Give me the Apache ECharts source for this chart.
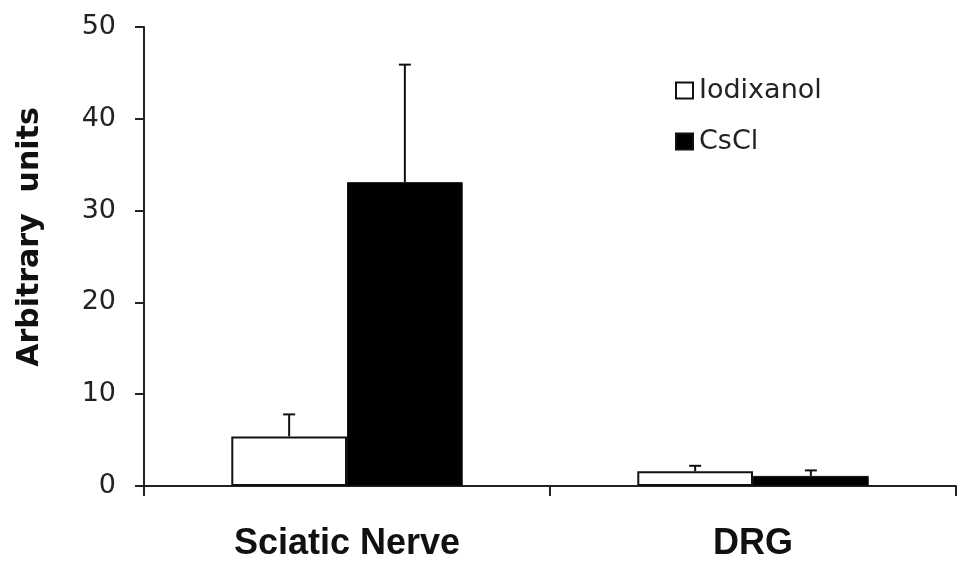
<!DOCTYPE html>
<html>
<head>
<meta charset="utf-8">
<script src="https://cdn.jsdelivr.net/npm/echarts@6/dist/echarts.min.js"></script>
<style>
  html, body { margin: 0; padding: 0; background: #fff; }
  #chart { width: 957px; height: 563px; }
</style>
</head>
<body>
<div id="chart"></div>
<script>
// Tissue categories and the two preparation methods
const categories = ['Sciatic Nerve', 'DRG'];
const seriesNames = ['Iodixanol', 'CsCl'];

// Mean values (arbitrary units) and upper error bar lengths
const iodixanolMean = [5.4, 1.6];
const iodixanolErr = [2.4, 0.6];
const csclMean = [33.1, 1.1];
const csclErr = [12.8, 0.6];

const yTicks = [0, 10, 20, 30, 40, 50];

const BAR_CATEGORY_GAP = 0.43;

const chart = echarts.init(document.getElementById('chart'));

// Upward-only error whisker with a short cap, placed over its bar
function errorRenderer(seriesIndex, count) {
  return function (params, api) {
    const catIdx = api.value(0);
    const mean = api.value(1);
    const err = api.value(2);
    const base = api.coord([catIdx, mean]);
    const top = api.coord([catIdx, mean + err]);
    const band = api.size([1, 0])[0];
    const barW = band * (1 - BAR_CATEGORY_GAP) / count;
    const x = base[0] - band * (1 - BAR_CATEGORY_GAP) / 2 + barW * (seriesIndex + 0.5);
    const capHalf = 6;
    const style = { stroke: '#111', lineWidth: 2, fill: null };
    return {
      type: 'group',
      children: [
        { type: 'line', shape: { x1: x, y1: base[1], x2: x, y2: top[1] }, style: style },
        { type: 'line', shape: { x1: x - capHalf, y1: top[1], x2: x + capHalf, y2: top[1] }, style: style }
      ]
    };
  };
}

const iodixanolErrData = categories.map((c, i) => [i, iodixanolMean[i], iodixanolErr[i]]);
const csclErrData = categories.map((c, i) => [i, csclMean[i], csclErr[i]]);

chart.setOption({
  animation: false,
  backgroundColor: '#ffffff',
  grid: { left: 144, right: 1, top: 27, bottom: 77, containLabel: false },
  legend: {
    orient: 'vertical',
    left: 670,
    top: 72,
    itemWidth: 17,
    itemHeight: 16,
    itemGap: 24,
    icon: 'rect',
    data: seriesNames,
    textStyle: { fontFamily: 'DejaVu Sans', fontSize: 27, color: '#222', padding: [5, 0, 0, 1] }
  },
  xAxis: {
    type: 'category',
    data: categories,
    axisLine: { lineStyle: { color: '#222', width: 2 } },
    axisTick: { show: true, length: 10, inside: false, alignWithLabel: false, lineStyle: { color: '#222', width: 2 } },
    axisLabel: { fontFamily: 'Liberation Sans', fontWeight: 'bold', fontSize: 36, color: '#111', margin: 40 },
    splitLine: { show: false }
  },
  yAxis: {
    type: 'value',
    min: yTicks[0],
    max: yTicks[yTicks.length - 1],
    interval: 10,
    axisLine: { show: true, lineStyle: { color: '#222', width: 2 } },
    axisTick: { show: true, length: 9, inside: false, lineStyle: { color: '#222', width: 2 } },
    axisLabel: { fontFamily: 'DejaVu Sans', fontSize: 27, color: '#222', margin: 28, padding: [6, 0, 0, 0] },
    splitLine: { show: false }
  },
  graphic: [{
    type: 'text',
    x: 30,
    y: 237,
    rotation: Math.PI / 2,
    style: {
      text: 'Arbitrary  units',
      fontFamily: 'DejaVu Sans',
      fontWeight: 'bold',
      fontSize: 30,
      fill: '#111',
      textAlign: 'center',
      textVerticalAlign: 'middle'
    }
  }],
  series: [
    {
      name: seriesNames[0],
      type: 'bar',
      data: iodixanolMean,
      barGap: '0%',
      barCategoryGap: (BAR_CATEGORY_GAP * 100) + '%',
      itemStyle: { color: '#ffffff', borderColor: '#111', borderWidth: 2 }
    },
    {
      name: seriesNames[1],
      type: 'bar',
      data: csclMean,
      barGap: '0%',
      barCategoryGap: (BAR_CATEGORY_GAP * 100) + '%',
      itemStyle: { color: '#000000', borderColor: '#111', borderWidth: 1 }
    },
    {
      type: 'custom',
      renderItem: errorRenderer(0, 2),
      data: iodixanolErrData,
      encode: { x: 0, y: 1 },
      z: 1
    },
    {
      type: 'custom',
      renderItem: errorRenderer(1, 2),
      data: csclErrData,
      encode: { x: 0, y: 1 },
      z: 1
    }
  ]
});
</script>
</body>
</html>
